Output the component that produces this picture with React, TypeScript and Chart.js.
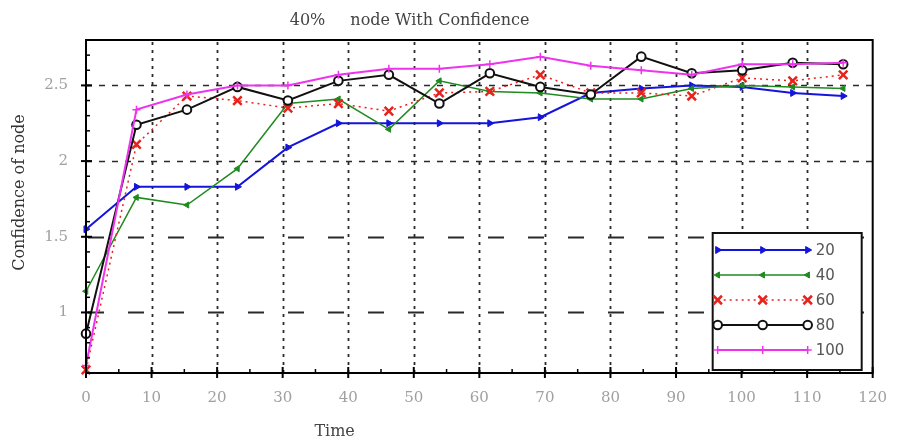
import React, { useEffect, useRef } from 'react';
import { Chart, registerables } from 'chart.js';
import { drawPoint } from 'chart.js/helpers';

Chart.register(...registerables);

const titleLeftPart = '40%';
const titleRightPart = 'node With Confidence';
const xTitle = 'Time';
const yTitle = 'Confidence of node';

const timeValues = [0, 7.7, 15.4, 23.1, 30.8, 38.5, 46.2, 53.9, 61.6, 69.3, 77, 84.7, 92.4, 100.1, 107.8, 115.5];

const seriesLabels = ['20', '40', '60', '80', '100'];
const series20 = [1.55, 1.83, 1.83, 1.83, 2.09, 2.25, 2.25, 2.25, 2.25, 2.29, 2.45, 2.48, 2.5, 2.49, 2.45, 2.43];
const series40 = [1.14, 1.76, 1.71, 1.95, 2.38, 2.41, 2.21, 2.53, 2.46, 2.45, 2.41, 2.41, 2.48, 2.5, 2.49, 2.48];
const series60 = [0.62, 2.11, 2.43, 2.4, 2.35, 2.38, 2.33, 2.45, 2.46, 2.57, 2.45, 2.45, 2.43, 2.55, 2.53, 2.57];
const series80 = [0.86, 2.24, 2.34, 2.49, 2.4, 2.53, 2.57, 2.38, 2.58, 2.49, 2.44, 2.69, 2.58, 2.6, 2.65, 2.64];
const series100 = [0.65, 2.34, 2.44, 2.5, 2.5, 2.57, 2.61, 2.61, 2.64, 2.69, 2.63, 2.6, 2.57, 2.64, 2.64, 2.65];

const xMin = 0;
const xMax = 120;
const xTickStep = 10;
const xMinorStep = 5;
const yMin = 0.6;
const yMax = 2.8;
const yTickValues = [1, 1.5, 2, 2.5];
const yMinorStep = 0.1;

type Style = {
  color: string;
  pointStyle: string;
  rotation: number;
  radius: number;
  lineWidth: number;
  pointBorderWidth: number;
  dash: number[];
  fill: string;
};

const styles: Style[] = [
  { color: '#1414dc', pointStyle: 'triangle', rotation: 90, radius: 4, lineWidth: 2, pointBorderWidth: 1, dash: [], fill: '#1414dc' },
  { color: '#1f8a1f', pointStyle: 'triangle', rotation: -90, radius: 3.5, lineWidth: 1.5, pointBorderWidth: 1, dash: [], fill: '#1f8a1f' },
  { color: '#e8221c', pointStyle: 'crossRot', rotation: 0, radius: 6, lineWidth: 1.5, pointBorderWidth: 2.5, dash: [2, 4], fill: '#e8221c' },
  { color: '#111111', pointStyle: 'circle', rotation: 0, radius: 4.3, lineWidth: 2, pointBorderWidth: 2, dash: [], fill: '#ffffff' },
  { color: '#ee33ee', pointStyle: 'cross', rotation: 0, radius: 4, lineWidth: 2, pointBorderWidth: 1.5, dash: [], fill: '#ee33ee' },
];

const allSeries = [series20, series40, series60, series80, series100];

const framePlugin = {
  id: 'frameAndGrid',
  beforeDatasetsDraw(chart: any) {
    const { ctx, chartArea, scales } = chart;
    const { left, right, top, bottom } = chartArea;
    const x = scales.x;
    const y = scales.y;
    ctx.save();
    ctx.strokeStyle = '#2a2a2a';
    ctx.lineWidth = 1.8;
    ctx.setLineDash([3, 5]);
    for (let v = xMin + xTickStep; v < xMax; v += xTickStep) {
      const px = Math.round(x.getPixelForValue(v)) + 0.5;
      ctx.beginPath();
      ctx.moveTo(px, bottom);
      ctx.lineTo(px, top);
      ctx.stroke();
    }
    yTickValues.forEach((v) => {
      const py = Math.round(y.getPixelForValue(v)) + 0.5;
      if (v >= 2) {
        ctx.setLineDash([6, 7]);
        ctx.lineWidth = 1.6;
        ctx.lineDashOffset = 0;
      } else {
        ctx.setLineDash([16, 24]);
        ctx.lineWidth = 2;
        ctx.lineDashOffset = -2;
      }
      ctx.beginPath();
      ctx.moveTo(left, py);
      ctx.lineTo(right, py);
      ctx.stroke();
    });
    ctx.restore();
  },
  afterDatasetsDraw(chart: any) {
    const { ctx, chartArea, scales } = chart;
    const { left, right, top, bottom } = chartArea;
    const x = scales.x;
    const y = scales.y;
    ctx.save();
    ctx.setLineDash([]);
    ctx.strokeStyle = '#000';
    ctx.lineWidth = 1.5;
    for (let v = yMin; v <= yMax + 1e-9; v += yMinorStep) {
      const py = y.getPixelForValue(v);
      ctx.beginPath();
      ctx.moveTo(left, py);
      ctx.lineTo(left + 4, py);
      ctx.stroke();
    }
    ctx.lineWidth = 2;
    yTickValues.forEach((v) => {
      const py = y.getPixelForValue(v);
      ctx.beginPath();
      ctx.moveTo(left - 5, py);
      ctx.lineTo(left + 6, py);
      ctx.stroke();
    });
    for (let v = xMin; v <= xMax; v += xMinorStep) {
      const px = x.getPixelForValue(v);
      const major = Math.abs(v / xTickStep - Math.round(v / xTickStep)) < 1e-9;
      ctx.lineWidth = major ? 2 : 1.5;
      ctx.beginPath();
      ctx.moveTo(px, bottom + (major ? 5 : 0));
      ctx.lineTo(px, bottom - (major ? 6 : 4));
      ctx.stroke();
    }
    ctx.lineWidth = 2;
    ctx.strokeRect(left, top, right - left, bottom - top);
    ctx.restore();
  },
  afterDraw(chart: any) {
    const { ctx, chartArea } = chart;
    const { left, right, top, bottom } = chartArea;
    const w = right - left;
    ctx.save();
    // legend box
    const bx = right - 160;
    const by = bottom - 140;
    const bw = 149;
    const bh = 137;
    ctx.fillStyle = '#fff';
    ctx.fillRect(bx, by, bw, bh);
    ctx.strokeStyle = '#111';
    ctx.lineWidth = 2;
    ctx.strokeRect(bx, by, bw, bh);
    seriesLabels.forEach((lab, i) => {
      const st = styles[i];
      const ly = by + 17 + i * 25;
      const x0 = bx + 5;
      const x1 = bx + 95;
      ctx.strokeStyle = st.color;
      ctx.lineWidth = st.lineWidth;
      ctx.setLineDash(st.dash);
      ctx.beginPath();
      ctx.moveTo(x0, ly);
      ctx.lineTo(x1, ly);
      ctx.stroke();
      ctx.setLineDash([]);
      [x0, (x0 + x1) / 2, x1].forEach((mx) => {
        ctx.fillStyle = st.fill;
        ctx.strokeStyle = st.color;
        ctx.lineWidth = st.pointBorderWidth;
        drawPoint(ctx, { pointStyle: st.pointStyle as any, rotation: st.rotation, radius: st.radius, borderWidth: st.pointBorderWidth }, mx, ly);
      });
      ctx.fillStyle = '#555';
      ctx.font = '15px "DejaVu Sans"';
      ctx.textAlign = 'left';
      ctx.textBaseline = 'middle';
      ctx.fillText(lab, bx + 103, ly + 1);
    });
    // titles
    ctx.fillStyle = '#444';
    ctx.font = '16px "DejaVu Serif"';
    ctx.textAlign = 'left';
    ctx.textBaseline = 'middle';
    ctx.fillText(titleLeftPart, left + w * 0.259, 21);
    ctx.fillText(titleRightPart, left + w * 0.336, 21);
    ctx.textAlign = 'center';
    ctx.fillStyle = '#444';
    ctx.font = '16px "DejaVu Serif"';
    ctx.fillText(xTitle, left + w * 0.316, 432);
    ctx.translate(20, (top + bottom) / 2 - 14);
    ctx.rotate(-Math.PI / 2);
    ctx.fillStyle = '#333';
    ctx.font = '16px "DejaVu Serif"';
    ctx.fillText(yTitle, 0, 0);
    ctx.restore();
  },
};

export default function App() {
  const ref = useRef<HTMLCanvasElement>(null);
  useEffect(() => {
    document.body.style.margin = '0';
    const canvas = ref.current!;
    const datasets = allSeries.map((s, i) => {
      const st = styles[i];
      return {
        label: seriesLabels[i],
        data: s.map((v, j) => ({ x: timeValues[j], y: v })),
        borderColor: st.color,
        backgroundColor: st.fill,
        borderWidth: st.lineWidth,
        borderDash: st.dash,
        pointStyle: st.pointStyle,
        rotation: st.rotation,
        pointRadius: st.radius,
        pointBorderWidth: st.pointBorderWidth,
        pointBorderColor: st.color,
        pointBackgroundColor: st.fill,
        tension: 0,
        order: 5 - i,
        clip: 8,
      };
    });
    const chart = new Chart(canvas, {
      type: 'line',
      data: { datasets: datasets as any },
      options: {
        animation: false,
        responsive: false,
        devicePixelRatio: 1,
        layout: { padding: { top: 40, right: 10, left: 0, bottom: 0 } },
        plugins: { legend: { display: false }, tooltip: { enabled: false }, title: { display: false } },
        scales: {
          x: {
            type: 'linear',
            min: xMin,
            max: xMax,
            grid: { display: false, drawTicks: false },
            border: { display: false },
            ticks: {
              stepSize: xTickStep,
              color: '#a0a0a0',
              font: { family: 'DejaVu Serif', size: 15 },
              padding: 16,
              maxRotation: 0,
            },
            afterFit: (s: any) => {
              s.height = 65;
            },
          },
          y: {
            type: 'linear',
            min: yMin,
            max: yMax,
            grid: { display: false, drawTicks: false },
            border: { display: false },
            ticks: {
              color: '#a0a0a0',
              font: { family: 'DejaVu Serif', size: 15 },
              padding: 18,
              callback: (v: any) => String(v),
            },
            afterBuildTicks: (s: any) => {
              s.ticks = yTickValues.map((v) => ({ value: v }));
            },
            afterFit: (s: any) => {
              s.width = 86;
            },
          },
        },
      },
      plugins: [framePlugin],
    });
    return () => chart.destroy();
  }, []);
  return (
    <div style={{ width: 903, height: 438 }}>
      <canvas ref={ref} width={903} height={438} style={{ display: 'block' }} />
    </div>
  );
}
